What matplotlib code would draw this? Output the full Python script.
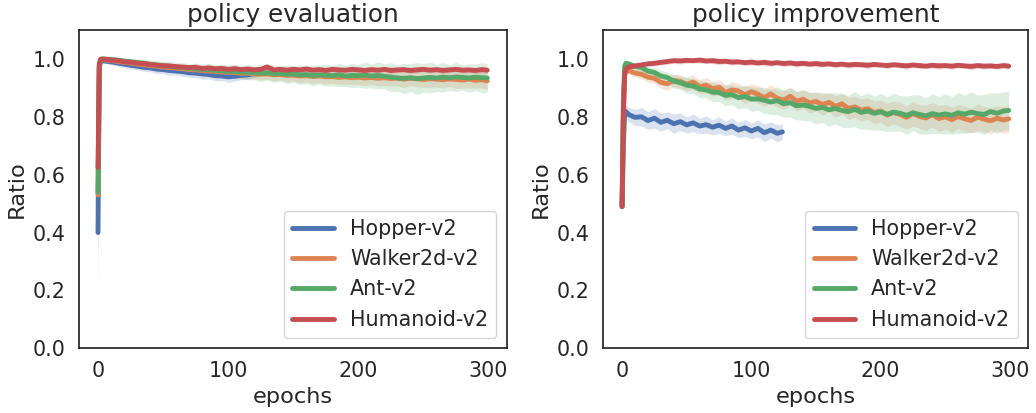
import matplotlib

matplotlib.use("Agg")
import matplotlib.pyplot as plt
import numpy as np
import seaborn as sns

# epoch grids (Hopper runs stop at ~124 epochs)
epochs = [0, 1, 2, 3] + list(range(5, 300, 5)) + [299]
hopper_epochs = [0, 1, 2, 3] + list(range(5, 125, 5)) + [124]

env_names = ["Hopper-v2", "Walker2d-v2", "Ant-v2", "Humanoid-v2"]
panel_titles = ["policy evaluation", "policy improvement"]

# ---- policy evaluation: mean ratio and band half-width ----
eval_hopper = [
    0.40, 0.97, 0.993, 0.994,
    0.993, 0.990, 0.986, 0.982, 0.978, 0.975, 0.971, 0.969, 0.965, 0.963,
    0.960, 0.958, 0.956, 0.952, 0.951, 0.948, 0.946, 0.942, 0.941, 0.938,
    0.940, 0.943, 0.945, 0.949,
    0.952,
]
eval_walker = [
    0.53, 0.975, 0.996, 0.998,
    0.997, 0.995, 0.991, 0.988, 0.986, 0.982, 0.980, 0.977, 0.975, 0.972,
    0.970, 0.968, 0.966, 0.963, 0.962, 0.960, 0.958, 0.957, 0.955, 0.954,
    0.953, 0.950, 0.951, 0.948, 0.947, 0.948, 0.945, 0.946, 0.943, 0.944,
    0.941, 0.942, 0.939, 0.941, 0.938, 0.939, 0.936, 0.938, 0.935, 0.937,
    0.934, 0.936, 0.933, 0.935, 0.932, 0.934, 0.930, 0.933, 0.931, 0.929,
    0.932, 0.930, 0.928, 0.931, 0.929, 0.927, 0.930, 0.926, 0.928,
    0.924,
]
eval_ant = [
    0.54, 0.975, 0.999, 1.0,
    1.0, 0.998, 0.996, 0.993, 0.990, 0.988, 0.985, 0.982, 0.979, 0.977,
    0.974, 0.972, 0.970, 0.967, 0.966, 0.963, 0.963, 0.960, 0.959, 0.957,
    0.957, 0.954, 0.955, 0.952, 0.951, 0.952, 0.949, 0.950, 0.947, 0.948,
    0.945, 0.946, 0.943, 0.945, 0.944, 0.942, 0.945, 0.941, 0.943, 0.942,
    0.944, 0.941, 0.943, 0.940, 0.937, 0.934, 0.933, 0.935, 0.932, 0.934,
    0.936, 0.934, 0.937, 0.935, 0.938, 0.936, 0.934, 0.937, 0.935,
    0.934,
]
eval_humanoid = [
    0.625, 0.985, 0.998, 0.999,
    0.999, 0.996, 0.994, 0.990, 0.989, 0.985, 0.984, 0.980, 0.979, 0.976,
    0.976, 0.973, 0.972, 0.970, 0.971, 0.967, 0.969, 0.966, 0.967, 0.964,
    0.966, 0.963, 0.965, 0.962, 0.964, 0.972, 0.962, 0.964, 0.961, 0.964,
    0.962, 0.965, 0.961, 0.963, 0.960, 0.964, 0.962, 0.961, 0.964, 0.962,
    0.960, 0.963, 0.961, 0.964, 0.960, 0.962, 0.963, 0.960, 0.962, 0.964,
    0.961, 0.963, 0.960, 0.962, 0.964, 0.961, 0.962, 0.960, 0.963,
    0.961,
]
eval_hopper_hw = [
    0.24, 0.03, 0.008, 0.008,
    0.009, 0.010, 0.012, 0.011, 0.013, 0.012, 0.014, 0.013, 0.015, 0.014,
    0.016, 0.014, 0.017, 0.015, 0.016, 0.018, 0.015, 0.017, 0.016, 0.018,
    0.017, 0.015, 0.016, 0.014,
    0.012,
]
eval_walker_hw = [
    0.20, 0.03, 0.008, 0.007,
    0.008, 0.009, 0.010, 0.012, 0.010, 0.013, 0.011, 0.014, 0.012, 0.013,
    0.015, 0.012, 0.014, 0.016, 0.013, 0.015, 0.017, 0.014, 0.016, 0.015,
    0.018, 0.016, 0.019, 0.017, 0.020, 0.018, 0.021, 0.019, 0.022, 0.020,
    0.023, 0.021, 0.024, 0.022, 0.025, 0.023, 0.024, 0.026, 0.023, 0.025,
    0.027, 0.024, 0.026, 0.028, 0.025, 0.027, 0.029, 0.026, 0.028, 0.027,
    0.030, 0.027, 0.029, 0.026, 0.031, 0.028, 0.030, 0.027, 0.029,
    0.030,
]
eval_ant_hw = [
    0.09, 0.03, 0.006, 0.006,
    0.006, 0.008, 0.010, 0.009, 0.012, 0.011, 0.014, 0.012, 0.015, 0.014,
    0.017, 0.015, 0.018, 0.016, 0.020, 0.018, 0.022, 0.019, 0.023, 0.021,
    0.025, 0.022, 0.027, 0.024, 0.029, 0.026, 0.030, 0.027, 0.032, 0.029,
    0.034, 0.031, 0.036, 0.033, 0.038, 0.035, 0.040, 0.037, 0.042, 0.039,
    0.045, 0.041, 0.047, 0.043, 0.050, 0.046, 0.052, 0.048, 0.055, 0.049,
    0.053, 0.047, 0.051, 0.045, 0.050, 0.044, 0.049, 0.046, 0.052,
    0.050,
]
eval_humanoid_hw = [
    0.30, 0.03, 0.008, 0.007,
    0.007, 0.008, 0.009, 0.007, 0.010, 0.008, 0.009, 0.011, 0.008, 0.010,
    0.009, 0.011, 0.008, 0.010, 0.012, 0.009, 0.010, 0.008, 0.011, 0.009,
    0.012, 0.010, 0.009, 0.011, 0.008, 0.012, 0.010, 0.009, 0.011, 0.010,
    0.008, 0.011, 0.009, 0.012, 0.010, 0.009, 0.011, 0.008, 0.010, 0.012,
    0.009, 0.011, 0.010, 0.008, 0.012, 0.010, 0.009, 0.011, 0.010, 0.008,
    0.011, 0.009, 0.012, 0.010, 0.008, 0.011, 0.009, 0.010, 0.012,
    0.010,
]

# ---- policy improvement ----
imp_hopper = [
    0.49, 0.70, 0.815, 0.818,
    0.808, 0.798, 0.800, 0.787, 0.795, 0.781, 0.788, 0.776, 0.783, 0.772,
    0.779, 0.768, 0.773, 0.764, 0.771, 0.760, 0.768, 0.754, 0.762, 0.751,
    0.760, 0.745, 0.754, 0.743,
    0.748,
]
imp_walker = [
    0.49, 0.82, 0.945, 0.955,
    0.960, 0.951, 0.947, 0.937, 0.933, 0.919, 0.914, 0.926, 0.922, 0.913,
    0.920, 0.904, 0.909, 0.897, 0.902, 0.884, 0.893, 0.889, 0.876, 0.887,
    0.878, 0.866, 0.879, 0.864, 0.858, 0.871, 0.854, 0.861, 0.848, 0.853,
    0.842, 0.850, 0.836, 0.845, 0.829, 0.834, 0.823, 0.828, 0.815, 0.820,
    0.806, 0.815, 0.808, 0.798, 0.811, 0.801, 0.796, 0.807, 0.794, 0.800,
    0.790, 0.801, 0.793, 0.787, 0.799, 0.792, 0.786, 0.795, 0.789,
    0.793,
]
imp_ant = [
    0.49, 0.86, 0.975, 0.985,
    0.983, 0.974, 0.970, 0.958, 0.953, 0.941, 0.936, 0.923, 0.918, 0.909,
    0.906, 0.896, 0.893, 0.885, 0.884, 0.874, 0.877, 0.866, 0.870, 0.861,
    0.862, 0.857, 0.851, 0.856, 0.845, 0.849, 0.838, 0.841, 0.836, 0.829,
    0.833, 0.824, 0.829, 0.822, 0.818, 0.826, 0.815, 0.820, 0.812, 0.817,
    0.809, 0.816, 0.812, 0.805, 0.814, 0.808, 0.803, 0.811, 0.806, 0.810,
    0.805, 0.814, 0.809, 0.816, 0.811, 0.808, 0.818, 0.812, 0.820,
    0.822,
]
imp_humanoid = [
    0.49, 0.80, 0.95, 0.965,
    0.972, 0.976, 0.979, 0.983, 0.985, 0.988, 0.991, 0.994, 0.993, 0.995,
    0.994, 0.996, 0.993, 0.994, 0.991, 0.992, 0.989, 0.990, 0.987, 0.989,
    0.986, 0.988, 0.985, 0.987, 0.984, 0.986, 0.983, 0.985, 0.982, 0.984,
    0.981, 0.983, 0.980, 0.982, 0.979, 0.981, 0.980, 0.978, 0.981, 0.979,
    0.977, 0.980, 0.978, 0.976, 0.979, 0.977, 0.975, 0.978, 0.976, 0.977,
    0.975, 0.978, 0.976, 0.974, 0.977, 0.975, 0.976, 0.974, 0.977,
    0.975,
]
imp_hopper_hw = [
    0.05, 0.06, 0.020, 0.022,
    0.024, 0.028, 0.032, 0.030, 0.034, 0.031, 0.029, 0.033, 0.030, 0.028,
    0.031, 0.027, 0.030, 0.026, 0.029, 0.025, 0.028, 0.026, 0.030, 0.027,
    0.029, 0.031, 0.028, 0.030,
    0.026,
]
imp_walker_hw = [
    0.03, 0.06, 0.015, 0.012,
    0.012, 0.014, 0.016, 0.018, 0.017, 0.020, 0.022, 0.021, 0.024, 0.023,
    0.026, 0.024, 0.027, 0.025, 0.028, 0.026, 0.029, 0.027, 0.030, 0.028,
    0.031, 0.029, 0.032, 0.030, 0.033, 0.031, 0.034, 0.032, 0.035, 0.033,
    0.036, 0.034, 0.037, 0.035, 0.038, 0.036, 0.039, 0.037, 0.040, 0.038,
    0.041, 0.039, 0.042, 0.040, 0.043, 0.041, 0.044, 0.042, 0.045, 0.043,
    0.044, 0.042, 0.045, 0.043, 0.046, 0.044, 0.045, 0.043, 0.046,
    0.045,
]
imp_ant_hw = [
    0.03, 0.06, 0.012, 0.010,
    0.010, 0.012, 0.015, 0.014, 0.018, 0.020, 0.019, 0.024, 0.022, 0.027,
    0.025, 0.030, 0.028, 0.033, 0.031, 0.036, 0.034, 0.039, 0.037, 0.042,
    0.040, 0.045, 0.043, 0.048, 0.046, 0.051, 0.049, 0.053, 0.050, 0.055,
    0.052, 0.057, 0.054, 0.059, 0.056, 0.061, 0.058, 0.063, 0.059, 0.064,
    0.060, 0.066, 0.061, 0.067, 0.062, 0.068, 0.063, 0.069, 0.064, 0.070,
    0.065, 0.071, 0.066, 0.070, 0.064, 0.069, 0.065, 0.070, 0.066,
    0.068,
]
imp_humanoid_hw = [
    0.02, 0.05, 0.015, 0.010,
    0.009, 0.008, 0.010, 0.009, 0.011, 0.008, 0.010, 0.009, 0.011, 0.010,
    0.008, 0.011, 0.009, 0.010, 0.012, 0.009, 0.011, 0.008, 0.010, 0.011,
    0.009, 0.012, 0.010, 0.008, 0.011, 0.009, 0.012, 0.010, 0.009, 0.011,
    0.010, 0.008, 0.012, 0.009, 0.011, 0.010, 0.009, 0.012, 0.010, 0.008,
    0.011, 0.009, 0.010, 0.012, 0.009, 0.011, 0.008, 0.010, 0.012, 0.009,
    0.011, 0.010, 0.008, 0.012, 0.009, 0.011, 0.010, 0.009, 0.011,
    0.010,
]

panels = [
    [
        (hopper_epochs, eval_hopper, eval_hopper_hw),
        (epochs, eval_walker, eval_walker_hw),
        (epochs, eval_ant, eval_ant_hw),
        (epochs, eval_humanoid, eval_humanoid_hw),
    ],
    [
        (hopper_epochs, imp_hopper, imp_hopper_hw),
        (epochs, imp_walker, imp_walker_hw),
        (epochs, imp_ant, imp_ant_hw),
        (epochs, imp_humanoid, imp_humanoid_hw),
    ],
]

sns.set_theme(style="white", font_scale=1.35)
colors = sns.color_palette("deep", 4)

fig = plt.figure(figsize=(10.36, 4.13), dpi=100)
axes = [
    fig.add_axes([0.0758, 0.1567, 0.4133, 0.7707]),
    fig.add_axes([0.5818, 0.1567, 0.4105, 0.7707]),
]

for ax, title, series in zip(axes, panel_titles, panels):
    for (x, mean, hw), name, color in zip(series, env_names, colors):
        x = np.asarray(x, dtype=float)
        mean = np.asarray(mean)
        hw = np.asarray(hw)
        ax.plot(x, mean, color=color, lw=3.5, label=name, solid_capstyle="round")
        ax.fill_between(x, mean - hw, mean + hw, color=color, alpha=0.2, linewidth=0)
    ax.set_xlim(-14.95, 313.95)
    ax.set_ylim(0.0, 1.1)
    ax.set_xticks([0, 100, 200, 300])
    ax.set_yticks([0.0, 0.2, 0.4, 0.6, 0.8, 1.0])
    ax.set_xlabel("epochs")
    ax.set_ylabel("Ratio")
    ax.set_title(title, fontsize=17.8)
    ax.legend(loc="lower right")

fig.savefig("out.png", dpi=100)
plt.close(fig)
